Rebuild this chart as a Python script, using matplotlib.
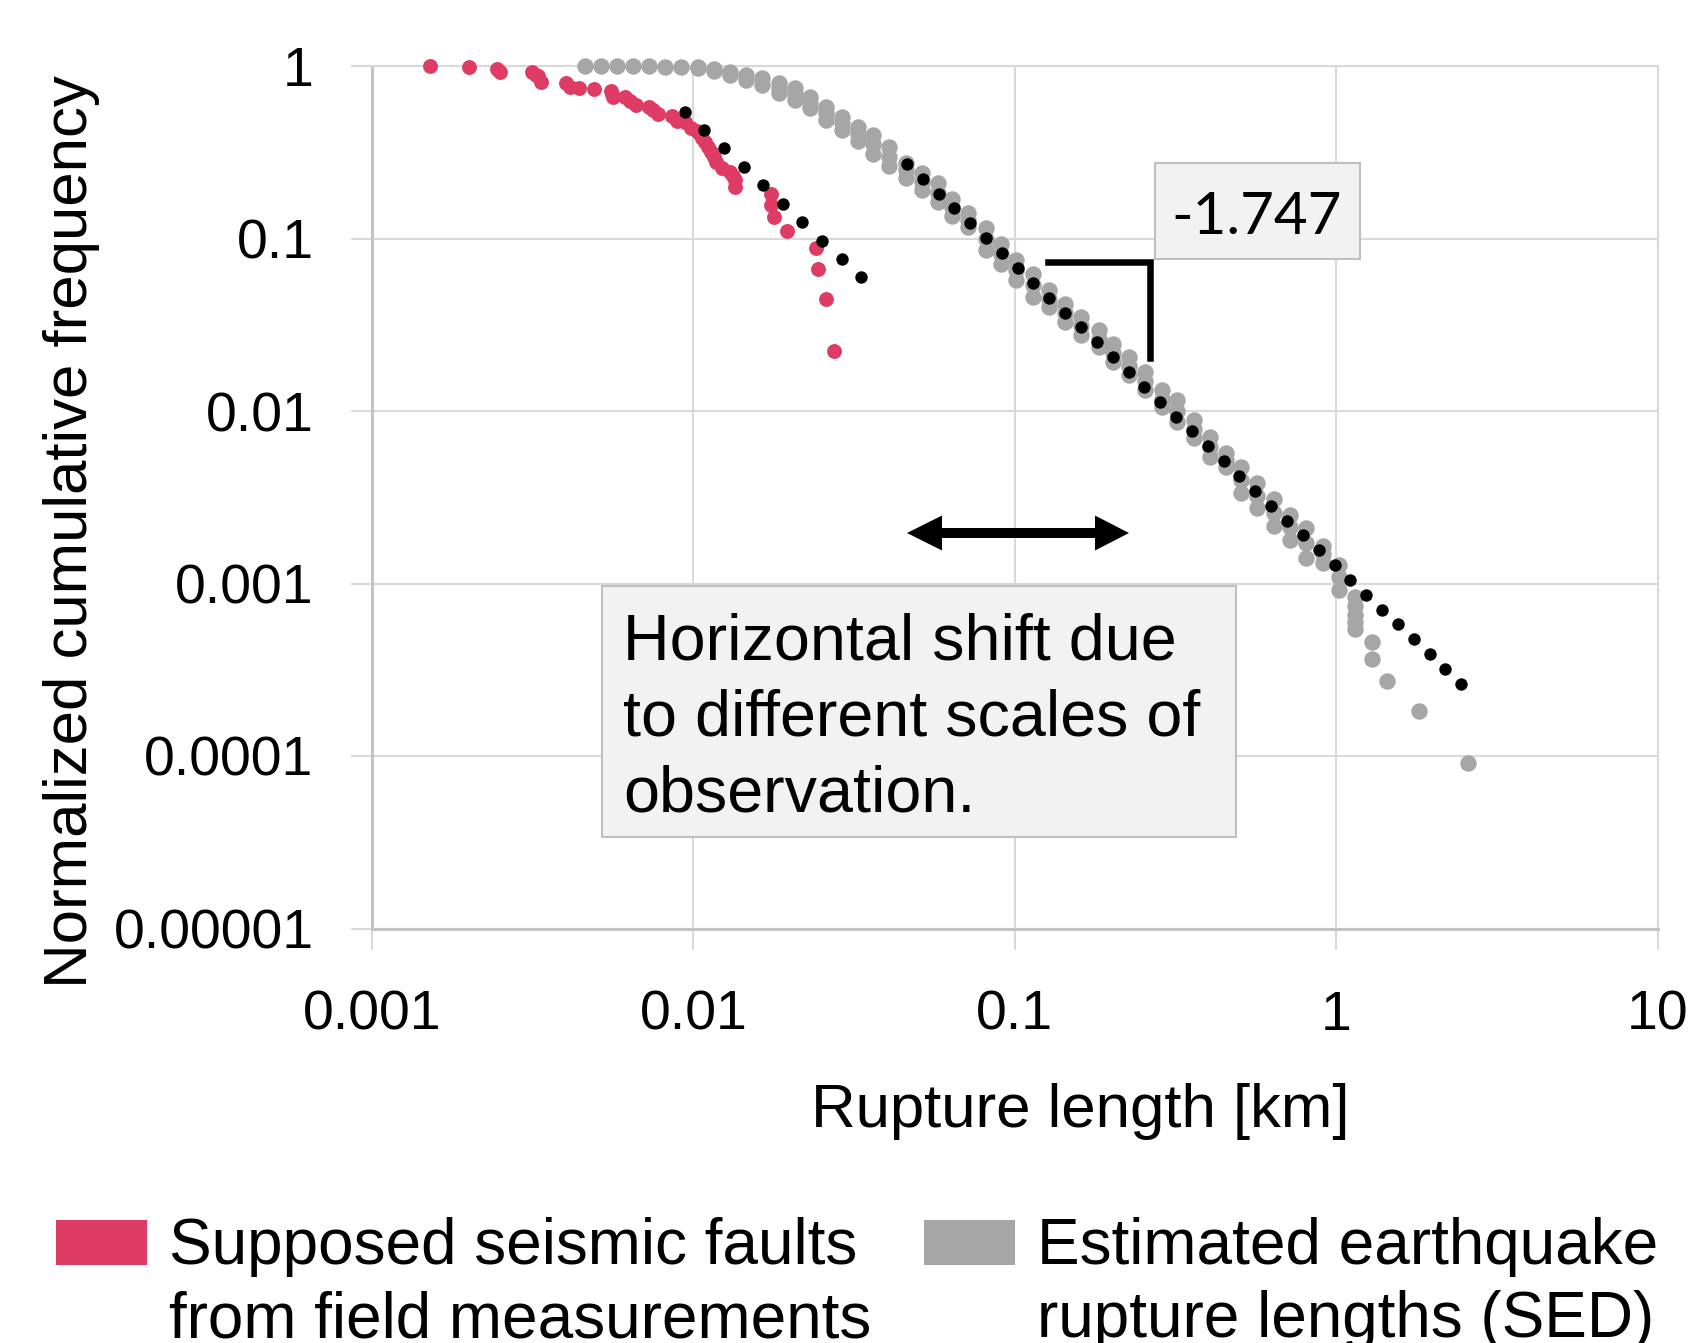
import numpy as np
import matplotlib
matplotlib.use("Agg")
import matplotlib.pyplot as plt
from matplotlib.patches import Rectangle, Polygon
from matplotlib.lines import Line2D

W, H = 1691, 1343

# ---------------- data (log10 values) ----------------
field_logx = [-2.821, -2.698, -2.610, -2.601, -2.501, -2.490, -2.483, -2.474, -2.396, -2.384,
              -2.356, -2.308, -2.256, -2.253, -2.250, -2.213, -2.196, -2.179, -2.139, -2.125,
              -2.110, -2.068, -2.051, -2.027, -2.006, -1.990, -1.982, -1.973, -1.964, -1.955,
              -1.946, -1.937, -1.929, -1.911, -1.887, -1.878, -1.871, -1.871, -1.758, -1.758,
              -1.748, -1.708, -1.618, -1.613, -1.586, -1.562]
field_logy = [0.000, -0.008, -0.017, -0.033, -0.037, -0.050, -0.058, -0.091, -0.097, -0.120,
              -0.129, -0.135, -0.143, -0.160, -0.178, -0.182, -0.201, -0.226, -0.236, -0.255,
              -0.278, -0.290, -0.317, -0.323, -0.361, -0.375, -0.390, -0.415, -0.439, -0.468,
              -0.497, -0.526, -0.555, -0.593, -0.613, -0.640, -0.661, -0.700, -0.742, -0.806,
              -0.873, -0.955, -1.057, -1.177, -1.349, -1.652]

sed_col_logx = [-2.337, -2.288, -2.238, -2.188, -2.137, -2.087, -2.037, -1.987, -1.937, -1.887,
                -1.836, -1.786, -1.735, -1.685, -1.637, -1.587, -1.536, -1.487, -1.440, -1.390,
                -1.338, -1.290, -1.239, -1.194, -1.144, -1.090, -1.043, -0.995, -0.944, -0.894,
                -0.844, -0.793, -0.739, -0.694, -0.644, -0.594, -0.543, -0.495, -0.442, -0.394,
                -0.344, -0.296, -0.245, -0.192, -0.142, -0.093, -0.042, 0.008, 0.060,
                0.112, 0.158, 0.259, 0.410]
sed_col_logy = [[0.000], [0.000], [0.000], [0.000], [0.000], [-0.003], [-0.006],
                [-0.008, -0.014], [-0.015, -0.030], [-0.033, -0.052], [-0.052, -0.081],
                [-0.072, -0.110], [-0.100, -0.130, -0.158], [-0.130, -0.165, -0.197],
                [-0.178, -0.212, -0.245], [-0.236, -0.275, -0.313], [-0.294, -0.333, -0.371],
                [-0.355, -0.395, -0.435], [-0.400, -0.455, -0.510], [-0.470, -0.525, -0.580],
                [-0.560, -0.605, -0.650], [-0.620, -0.670, -0.720], [-0.680, -0.735, -0.790],
                [-0.770, -0.820, -0.870], [-0.855, -0.895, -0.932], [-0.942, -1.005, -1.068],
                [-1.029, -1.087, -1.145], [-1.126, -1.184, -1.242], [-1.203, -1.270, -1.338],
                [-1.300, -1.348, -1.396], [-1.377, -1.430, -1.483], [-1.454, -1.507, -1.560],
                [-1.531, -1.580, -1.628], [-1.609, -1.662, -1.715], [-1.686, -1.739, -1.792],
                [-1.773, -1.826, -1.879], [-1.880, -1.928, -1.976], [-1.937, -2.000, -2.063],
                [-2.053, -2.106, -2.159], [-2.150, -2.208, -2.266], [-2.246, -2.285, -2.324],
                [-2.324, -2.400, -2.478], [-2.420, -2.495, -2.565], [-2.510, -2.590, -2.666],
                [-2.600, -2.675, -2.750], [-2.680, -2.765, -2.850], [-2.780, -2.830, -2.880],
                [-2.890, -2.960, -3.035], [-3.080, -3.130, -3.180, -3.225, -3.265],
                [-3.342, -3.435], [-3.564], [-3.738], [-4.038]]

field_fit_logx = [-2.027, -1.966, -1.905, -1.844, -1.783, -1.722, -1.661, -1.600, -1.539, -1.478]
field_fit_logy = [-0.265, -0.372, -0.478, -0.585, -0.692, -0.798, -0.905, -1.012, -1.118, -1.225]

sed_fit_logx = [-1.336, -1.287, -1.237, -1.188, -1.139, -1.089, -1.040, -0.991, -0.942, -0.892,
                -0.843, -0.794, -0.744, -0.695, -0.646, -0.597, -0.547, -0.498, -0.449, -0.399,
                -0.350, -0.301, -0.251, -0.202, -0.153, -0.103, -0.054, -0.005, 0.044, 0.094,
                0.143, 0.192, 0.242, 0.291, 0.340, 0.390]
sed_fit_logy = [-0.568, -0.654, -0.740, -0.826, -0.912, -0.998, -1.085, -1.171, -1.257, -1.343,
                -1.429, -1.515, -1.601, -1.687, -1.773, -1.860, -1.946, -2.032, -2.118, -2.204,
                -2.290, -2.376, -2.462, -2.548, -2.635, -2.721, -2.807, -2.893, -2.979, -3.065,
                -3.151, -3.237, -3.323, -3.410, -3.496, -3.582]

x_ticks = [0.001, 0.01, 0.1, 1, 10]
x_tick_labels = ["0.001", "0.01", "0.1", "1", "10"]
y_ticks = [1e-5, 1e-4, 1e-3, 1e-2, 1e-1, 1]
y_tick_labels = ["0.00001", "0.0001", "0.001", "0.01", "0.1", "1"]
slope_label = "-1.747"
shift_label = "Horizontal shift due\nto different scales of\nobservation."
legend_labels = ["Supposed seismic faults\nfrom field measurements",
                 "Estimated earthquake\nrupture lengths (SED)"]

RED = "#DE3C64"
GRAY = "#A6A6A6"
GRID = "#D9D9D9"

plt.rcParams["font.family"] = ["Liberation Sans", "DejaVu Sans"]

fig = plt.figure(figsize=(W / 100, H / 100), dpi=100)


def fx(px):
    return px / W


def fy(py):
    return 1 - py / H


ax = fig.add_axes([fx(372), fy(928.5), (1657.5 - 372) / W, (928.5 - 66) / H])

sed_x, sed_y = [], []
for lx, ys in zip(sed_col_logx, sed_col_logy):
    for ly in ys:
        sed_x.append(10 ** lx)
        sed_y.append(10 ** ly)

ax.scatter(10 ** np.array(field_logx), 10 ** np.array(field_logy), s=115, color=RED,
           linewidths=0, zorder=3, clip_on=False)
ax.scatter(sed_x, sed_y, s=140, color=GRAY, linewidths=0, zorder=4, clip_on=False)
ax.scatter(10 ** np.array(field_fit_logx), 10 ** np.array(field_fit_logy), s=80, color="black",
           linewidths=0, zorder=5)
ax.scatter(10 ** np.array(sed_fit_logx), 10 ** np.array(sed_fit_logy), s=80, color="black",
           linewidths=0, zorder=5)

ax.set_xscale("log")
ax.set_yscale("log")
ax.set_xlim(0.001, 10)
ax.set_ylim(1e-5, 1)
ax.set_xticks(x_ticks)
ax.set_xticklabels(x_tick_labels)
ax.set_yticks(y_ticks)
ax.set_yticklabels(y_tick_labels)
ax.minorticks_off()
ax.grid(True, which="major", color=GRID, lw=1.5, zorder=0)
ax.set_axisbelow(True)
for side in ["top", "right"]:
    ax.spines[side].set_color(GRID)
    ax.spines[side].set_linewidth(1.5)
for side in ["left", "bottom"]:
    ax.spines[side].set_color("#C4C4C4")
    ax.spines[side].set_linewidth(2.2)
ax.tick_params(axis="x", direction="out", length=15, width=1.5, color=GRID, pad=29,
               labelsize=40, labelcolor="black")
ax.tick_params(axis="y", direction="out", length=15, width=1.5, color=GRID, pad=27,
               labelsize=40, labelcolor="black")

fig.text(fx(1080), fy(1127), "Rupture length [km]", fontsize=44.5, ha="center", va="baseline")
fig.text(fx(72), fy(532), "Normalized cumulative frequency", fontsize=44.5, rotation=90,
         ha="center", va="center")

# slope annotation box
fig.add_artist(Rectangle((fx(1155), fy(259)), (1360 - 1155) / W, (259 - 163) / H,
                         transform=fig.transFigure, facecolor="#F2F2F2", edgecolor="#BFBFBF",
                         lw=1.5, zorder=6))
fig.text(fx(1257), fy(234), slope_label, fontsize=42, ha="center", va="baseline",
         family=["Lato", "DejaVu Sans"], zorder=7)
fig.add_artist(Line2D([fx(1048), fx(1150), fx(1150)], [fy(262), fy(262), fy(358)],
                      transform=fig.transFigure, color="black", lw=4.7,
                      solid_joinstyle="miter", zorder=6))

# shift annotation (multi-line text: baseline alignment refers to the last line)
fig.add_artist(Rectangle((fx(602), fy(837)), (1236 - 602) / W, (837 - 586) / H,
                         transform=fig.transFigure, facecolor="#F2F2F2", edgecolor="#BFBFBF",
                         lw=1.5, zorder=6))
fig.text(fx(623), fy(812), shift_label, fontsize=46.5, ha="left", va="baseline",
         linespacing=1.345, zorder=7)
arrow_px = [(907, 533), (942, 515.5), (942, 528), (1095, 528), (1095, 515.5), (1129, 533),
            (1095, 550.5), (1095, 538), (942, 538), (942, 550.5)]
fig.add_artist(Polygon([(fx(a), fy(b)) for a, b in arrow_px], closed=True,
                       transform=fig.transFigure, facecolor="black", edgecolor="none",
                       zorder=6))

# legend
for (x0, x1), col, lab, tx in [((56, 147), RED, legend_labels[0], 169),
                               ((924, 1015), GRAY, legend_labels[1], 1037)]:
    fig.add_artist(Rectangle((fx(x0), fy(1265)), (x1 - x0) / W, 45 / H,
                             transform=fig.transFigure, facecolor=col, edgecolor="none"))
    fig.text(fx(tx), fy(1337), lab, fontsize=46, ha="left", va="baseline", linespacing=1.27)

fig.savefig("out.png", dpi=100)
